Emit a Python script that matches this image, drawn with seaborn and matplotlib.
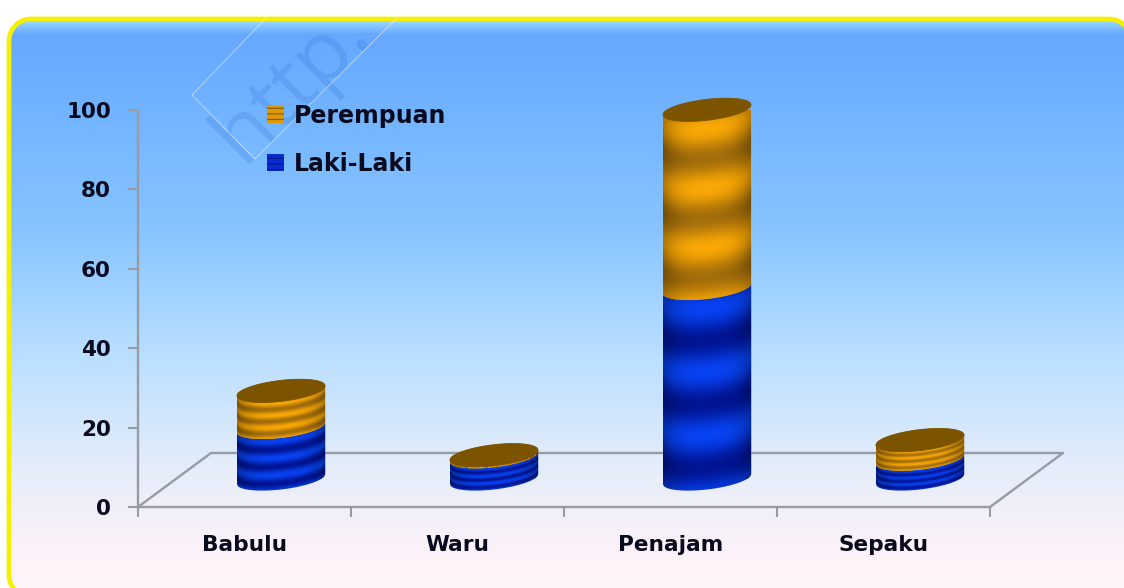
import numpy as np
import pandas as pd
import matplotlib
matplotlib.use("Agg")
import matplotlib.pyplot as plt
import seaborn as sns
from matplotlib.path import Path
from matplotlib.patches import PathPatch, Patch
from matplotlib.transforms import Affine2D

categories = ["Babulu", "Waru", "Penajam", "Sepaku"]
laki_laki = [13.0, 5.6, 48.0, 5.0]
perempuan = [9.2, 0.4, 45.0, 4.8]
y_ticks = [0, 20, 40, 60, 80, 100]

W, H, DPI = 1124, 588, 100
sns.set_theme(style="white")
plt.rcParams["font.family"] = ["DejaVu Sans"]
plt.rcParams["font.weight"] = "bold"
plt.rcParams["hatch.linewidth"] = 0.9

fig = plt.figure(figsize=(W / DPI, H / DPI), dpi=DPI, facecolor="white")

# ---- rounded panel background
bg = fig.add_axes([0, 0, 1, 1], zorder=0)
bg.set_xlim(0, W)
bg.set_ylim(H, 0)
bg.axis("off")
stops_y = np.array([17, 24, 34, 120, 230, 350, 470, 560, 588]) / H
stops_c = np.array([[0.72, 0.90, 0.98], [0.55, 0.80, 1.0], [0.40, 0.66, 1.0], [0.45, 0.71, 1.0],
                    [0.53, 0.77, 1.0], [0.72, 0.87, 1.0], [0.90, 0.93, 0.98], [1.0, 0.95, 0.98], [1.0, 0.96, 0.98]])
yy = np.linspace(0, 1, H)
grad = np.stack([np.interp(yy, stops_y, stops_c[:, i]) for i in range(3)], axis=1)[:, None, :]


def rounded_box(x0, y0, x1, y1, r):
    pts = []
    for cx, cy, a0 in ((x0 + r, y0 + r, 180), (x1 - r, y0 + r, 270), (x1 - r, y1 - r, 0), (x0 + r, y1 - r, 90)):
        ang = np.radians(np.linspace(a0, a0 + 90, 24))
        pts.append(np.column_stack([cx + r * np.cos(ang), cy + r * np.sin(ang)]))
    pts = np.vstack(pts + [pts[0][:1]])
    return Path(pts, closed=True)


panel = PathPatch(rounded_box(9, 19, 1131, 597, 22), facecolor="none", edgecolor="#F4F000", linewidth=3.4, zorder=3)
bg.add_patch(panel)
im_bg = bg.imshow(grad, extent=(0, W, H, 0), aspect="auto", zorder=1)
im_bg.set_clip_path(panel)
bg.set_xlim(0, W)
bg.set_ylim(H, 0)

# watermark
bg.text(292, 84, "http.", rotation=45, rotation_mode="anchor", ha="center", va="center", fontsize=60,
        fontweight="normal", color="#1E5AC8", alpha=0.17, zorder=4, fontfamily="Open Sans")
bg.plot([267, 192, 255, 398], [17, 95, 159, 17], color="white", lw=0.6, alpha=0.55, zorder=4)

# ---- main axes: y 0 at pixel 507, y 100 at pixel 110, x ticks 138..990
ax = fig.add_axes([138 / W, 1 - 507 / H, (990 - 138) / W, (507 - 110) / H], zorder=1)
ax.patch.set_alpha(0)
df = pd.DataFrame({"kec": categories, "laki": laki_laki, "perem": perempuan})
df["total"] = df["laki"] + df["perem"]
BAR_WIDTH = 0.415
sns.barplot(data=df, x="kec", y="total", color="#E09A00", width=BAR_WIDTH, saturation=1, ax=ax, zorder=2)
sns.barplot(data=df, x="kec", y="laki", color="#0A2BD0", width=BAR_WIDTH, saturation=1, ax=ax, zorder=2)
ax.set_xlim(-0.5, 3.5)
ax.set_ylim(0, 100)
ax.set_xlabel("")
ax.set_ylabel("")
GREY = "#969CA6"
for s in ("top", "right"):
    ax.spines[s].set_visible(False)
for s in ("left", "bottom"):
    ax.spines[s].set_color(GREY)
    ax.spines[s].set_linewidth(1.7)
ax.set_yticks(y_ticks)
ax.set_xticks([-0.5, 0.5, 1.5, 2.5, 3.5])
ax.set_xticklabels([])
ax.tick_params(axis="both", length=7.5, width=1.5, color=GREY, left=True, bottom=True)
ax.tick_params(axis="y", labelsize=15.5, pad=12, labelcolor="#0A0A1E")
ax.set_xticks([0, 1, 2, 3], labels=categories, minor=True)
ax.tick_params(axis="x", which="minor", length=0, labelsize=15.6, pad=20, labelcolor="#0A0A1E")

# depth offsets of the pseudo-3D floor (px)
depth = ax.transData + Affine2D().translate(73, 54)
bar_tf = ax.transData + Affine2D().translate(36.5, 28)
ax.plot([-0.5, 3.5], [0, 0], color=GREY, lw=1.7, transform=depth, clip_on=False, zorder=1)
for x in (-0.5, 3.5):
    xpx, ypx = ax.transData.transform((x, 0))
    ax.plot([xpx, xpx + 73], [ypx, ypx + 54], color=GREY, lw=1.7, transform=None, clip_on=False, zorder=1)

PX_Y = 100 / 397
B = 10.5 * PX_Y   # ellipse half height
S = 5.0 * PX_Y    # shear of the rim


def rim(cx, a, y, sign):
    u = np.linspace(-1, 1, 80)
    return np.column_stack([cx + a * u, y + sign * B * np.sqrt(1 - u ** 2) + S * u])


def shaded(rect, y0, y1, light, dark, z):
    cx = rect.get_x() + rect.get_width() / 2
    a = rect.get_width() / 2
    lo = rim(cx, a, y0, -1)
    hi = rim(cx, a, y1, +1)[::-1]
    path = Path(np.vstack([lo, hi, lo[:1]]), closed=True)
    rect.set_transform(bar_tf)
    rect.set_clip_path(path, bar_tf)
    rect.set_clip_on(True)
    rect.set_zorder(z - 0.5)

    ny = max(int((y1 - y0 + 4 * B + 2 * S) / PX_Y), 8)
    ys = np.linspace(y0 - 2 * B - S, y1 + 2 * B + S, ny)
    us = np.linspace(-1, 1, 90)
    U, Y = np.meshgrid(us, ys)
    front = y0 - B * np.sqrt(1 - U ** 2) + S * U
    v = (Y - front) / max(y1 - y0, 1e-6)
    t = 0.5 + 0.5 * np.cos(2 * np.pi * 3 * (v + 0.05))
    edge = 1 - 0.30 * np.abs(U) ** 3
    img = (np.array(dark)[None, None, :] + (np.array(light) - np.array(dark))[None, None, :] * t[..., None])
    img = np.clip(img * edge[..., None], 0, 1)
    im = ax.imshow(img, origin="lower", extent=(cx - a, cx + a, ys[0], ys[-1]), aspect="auto",
                   interpolation="bilinear", zorder=z, transform=bar_tf)
    im.set_clip_path(path, bar_tf)
    return cx, a


totals = df["total"].to_numpy()
lakis = df["laki"].to_numpy()
bars_total = ax.patches[:4]
bars_laki = ax.patches[4:8]
for i in range(4):
    shaded(bars_laki[i], 0, lakis[i], (0.03, 0.26, 0.95), (0.0, 0.08, 0.58), 3)
    cx, a = shaded(bars_total[i], lakis[i], totals[i], (0.98, 0.66, 0.02), (0.64, 0.43, 0.04), 4)
    top = np.vstack([rim(cx, a, totals[i], -1), rim(cx, a, totals[i], 1)[::-1]])
    ax.fill(top[:, 0], top[:, 1], color="#7C5400", lw=0.6, transform=bar_tf, zorder=5, clip_on=False)

ax.set_xlim(-0.5, 3.5)
ax.set_ylim(0, 100)

# ---- legend
handles = [Patch(facecolor="#E09A00", edgecolor="#8A5E00", hatch="---", lw=0, label="Perempuan"),
           Patch(facecolor="#0A2BD0", edgecolor="#001A90", hatch="---", lw=0, label="Laki-Laki")]
leg = ax.legend(handles=handles, frameon=False, loc="upper left",
                bbox_to_anchor=((250 - 138) / 852, (507 - 87) / 397),
                fontsize=17, labelspacing=1.04, handlelength=0.72, handleheight=0.72, handletextpad=0.43,
                borderpad=0.2, labelcolor="#0A0A1E")

fig.savefig("out.png", dpi=DPI)
